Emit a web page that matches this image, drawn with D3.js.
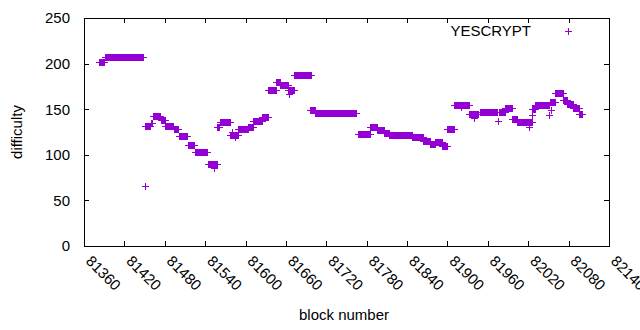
<html>
  <head>
    <style>
      body { margin: 0; background: #fff; }
      text { font-family: "Liberation Sans", Arial, sans-serif; font-size: 15px; fill: #000; }
      .pt line { stroke: #9400d3; stroke-width: 1px; }
    </style>
  </head>
  <body>
    <script src="https://d3js.org/d3.v7.min.js"></script>
    <script>
    // runs of constant difficulty: first block, last block, difficulty
    var runFrom = [81382, 81391, 81451, 81459, 81462, 81474, 81481, 81493, 81501, 81514, 81525, 81544,
                   81558, 81562, 81577, 81589, 81604, 81611, 81624, 81634, 81645, 81651, 81663, 81672,
                   81696, 81703, 81767, 81785, 81795, 81806, 81813, 81847, 81864, 81874, 81881, 81892,
                   81899, 81909, 81932, 81948, 81977, 81985, 81996, 82003, 82026, 82030, 82053, 82060,
                   82071, 82078, 82087, 82095];
    var runTo   = [81390, 81448, 81458, 81461, 81473, 81480, 81492, 81499, 81513, 81523, 81542, 81557,
                   81561, 81577, 81589, 81603, 81611, 81624, 81633, 81645, 81651, 81663, 81672, 81697,
                   81703, 81764, 81785, 81795, 81806, 81813, 81847, 81864, 81874, 81881, 81892, 81899,
                   81910, 81932, 81946, 81973, 81985, 81996, 82003, 82026, 82030, 82051, 82060, 82071,
                   82078, 82087, 82095, 82100];
    var runDiff = [202, 207, 132, 135, 142, 138, 132, 128, 121, 111, 103, 90,
                   131, 136, 122, 128, 131, 137, 141, 171, 180, 176, 171, 188,
                   149, 145.5, 123, 130.5, 127, 124, 122, 120, 115, 112, 114, 110,
                   128, 155, 145, 147, 147, 151, 139, 135.5, 150, 155, 158, 167.5,
                   160.5, 156, 151, 145];

    // stray blocks off their run
    var oddBlock = [81451, 81553, 81580, 81584, 81665, 81920, 81940, 81975, 82021, 82026, 82051, 82054];
    var oddDiff  = [66, 86, 125, 119, 167, 152, 140, 137, 131, 143.5, 144, 149];

    var xTicks = d3.range(81360, 82141, 60);
    var yTicks = [0, 50, 100, 150, 200, 250];

    var width = 640, height = 330;
    var plotL = 84, plotR = 609, plotT = 18, plotB = 246;

    var pts = [];
    runFrom.forEach(function(f, i) {
      for (var b = f; b <= runTo[i]; b++) pts.push({ block: b, diff: runDiff[i] });
    });
    oddBlock.forEach(function(b, i) { pts.push({ block: b, diff: oddDiff[i] }); });

    var x = d3.scaleLinear().domain([81360, 82140]).range([plotL, plotR]);
    var y = d3.scaleLinear().domain([0, 250]).range([plotB, plotT]);

    var svg = d3.select("body").append("svg")
        .attr("width", width)
        .attr("height", height);

    var tl = 5, arm = 3.5;

    // axes, gnuplot style: ticks inward, mirrored
    var g = svg.append("g").attr("shape-rendering", "crispEdges");
    g.selectAll(".xt").data(xTicks).enter().append("line")
        .attr("x1", function(d) { return Math.round(x(d)) + .5; })
        .attr("x2", function(d) { return Math.round(x(d)) + .5; })
        .attr("y1", plotB).attr("y2", plotB - tl).attr("stroke", "#000");
    g.selectAll(".xt2").data(xTicks).enter().append("line")
        .attr("x1", function(d) { return Math.round(x(d)) + .5; })
        .attr("x2", function(d) { return Math.round(x(d)) + .5; })
        .attr("y1", plotT).attr("y2", plotT + tl).attr("stroke", "#000");
    g.selectAll(".yt").data(yTicks).enter().append("line")
        .attr("y1", function(d) { return Math.round(y(d)) + .5; })
        .attr("y2", function(d) { return Math.round(y(d)) + .5; })
        .attr("x1", plotL).attr("x2", plotL + tl).attr("stroke", "#000");
    g.selectAll(".yt2").data(yTicks).enter().append("line")
        .attr("y1", function(d) { return Math.round(y(d)) + .5; })
        .attr("y2", function(d) { return Math.round(y(d)) + .5; })
        .attr("x1", plotR).attr("x2", plotR - tl).attr("stroke", "#000");

    svg.selectAll(".yl").data(yTicks).enter().append("text")
        .attr("x", 70).attr("y", function(d) { return y(d); })
        .attr("dy", "0.36em").attr("text-anchor", "end")
        .text(function(d) { return d; });

    svg.selectAll(".xl").data(xTicks).enter().append("text")
        .attr("transform", function(d) { return "translate(" + (x(d) + 1) + "," + 262 + ") rotate(45)"; })
        .text(function(d) { return d; });

    svg.append("text").attr("x", 17).attr("y", 132)
        .attr("transform", "rotate(-90,17,132)")
        .attr("dy", "0.35em").attr("text-anchor", "middle")
        .text("difficulty");
    svg.append("text").attr("x", 344).attr("y", 320)
        .attr("text-anchor", "middle").text("block number");

    // points
    var p = svg.append("g").attr("class", "pt").attr("shape-rendering", "crispEdges")
      .selectAll("g").data(pts).enter().append("g")
        .attr("transform", function(d) { return "translate(" + Math.round(x(d.block)) + "," + Math.round(y(d.diff)) + ")"; });
    p.append("line").attr("x1", -arm).attr("x2", arm).attr("y1", .5).attr("y2", .5);
    p.append("line").attr("x1", .5).attr("x2", .5).attr("y1", -arm).attr("y2", arm);

    // legend
    svg.append("text").attr("x", 531).attr("y", 31).attr("dy", "0.35em")
        .attr("text-anchor", "end").text("YESCRYPT");
    var lg = svg.append("g").attr("class", "pt").attr("shape-rendering", "crispEdges")
        .attr("transform", "translate(568,31)");
    lg.append("line").attr("x1", -arm).attr("x2", arm).attr("y1", .5).attr("y2", .5);
    lg.append("line").attr("x1", .5).attr("x2", .5).attr("y1", -arm).attr("y2", arm);

    svg.append("rect").attr("x", plotL + .5).attr("y", plotT + .5)
        .attr("width", plotR - plotL).attr("height", plotB - plotT)
        .attr("fill", "none").attr("stroke", "#000").attr("shape-rendering", "crispEdges");
    </script>
  </body>
</html>
